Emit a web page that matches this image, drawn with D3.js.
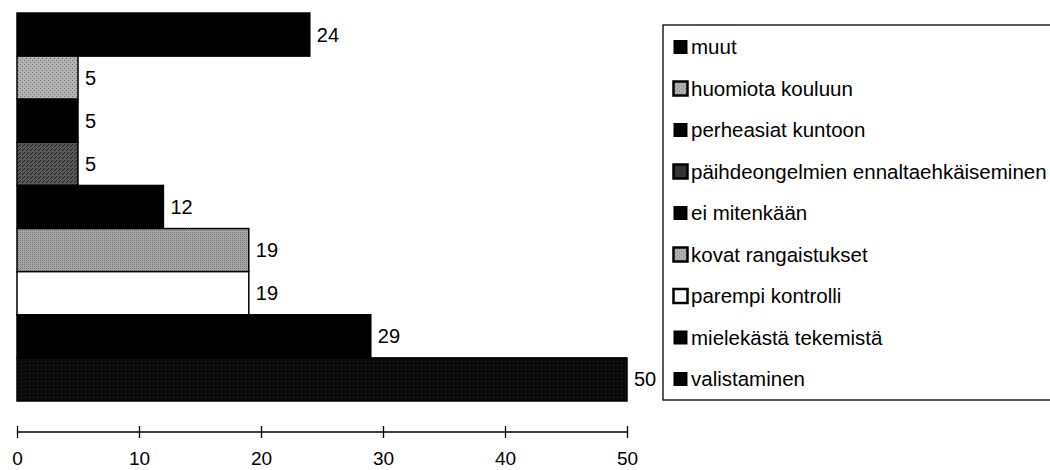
<!DOCTYPE html>
<html>
<head>
<meta charset="utf-8">
<script src="https://cdn.jsdelivr.net/npm/d3@7/dist/d3.min.js"></script>
<style>
  html, body { margin: 0; padding: 0; background: #fff; }
  svg { display: block; font-family: "Liberation Sans", Arial, Helvetica, sans-serif; }
</style>
</head>
<body>
<svg id="chart" width="1050" height="470"></svg>
<script>
const categories = ["muut", "huomiota kouluun", "perheasiat kuntoon", "päihdeongelmien ennaltaehkäiseminen", "ei mitenkään", "kovat rangaistukset", "parempi kontrolli", "mielekästä tekemistä", "valistaminen"];
const values = [24, 5, 5, 5, 12, 19, 19, 29, 50];
const tickValues = [0, 10, 20, 30, 40, 50];

// style per category (pattern ids or colours)
const fills = ["#000", "url(#pLight)", "#000", "url(#pDark)", "#000", "url(#pMid)", "#fff", "#000", "url(#pBlack)"];
const legendFills = ["#000", "url(#pLight)", "#000", "#333", "#000", "url(#pLight)", "#fff", "#000", "#000"];

const svg = d3.select("#chart");
const defs = svg.append("defs");

function dither(id, bg, dots, dotColor) {
  const p = defs.append("pattern").attr("id", id).attr("width", 4).attr("height", 4)
    .attr("patternUnits", "userSpaceOnUse");
  p.append("rect").attr("width", 4).attr("height", 4).attr("fill", bg);
  dots.forEach(([x, y]) => p.append("rect").attr("x", x).attr("y", y).attr("width", 1).attr("height", 1).attr("fill", dotColor));
}
dither("pLight", "#b4b4b4", [[0,0],[2,2]], "#6a6a6a");
dither("pMid", "#a6a6a6", [[0,0],[2,2],[2,0],[0,2]], "#777");
dither("pDark", "#5a5a5a", [[0,0],[2,2],[3,1]], "#1a1a1a");
dither("pBlack", "#0a0a0a", [[1,1]], "#333");

const x = d3.scaleLinear().domain([0, 50]).range([17, 627]);
const y = d3.scaleBand().domain(categories).range([13, 401]).padding(0);

// bars
svg.append("g").selectAll("rect").data(categories).join("rect")
  .attr("x", x(0))
  .attr("y", d => y(d))
  .attr("width", (d, i) => x(values[i]) - x(0))
  .attr("height", y.bandwidth())
  .attr("fill", (d, i) => fills[i])
  .attr("stroke", "#000")
  .attr("stroke-width", 1.5);

// value labels
svg.append("g").selectAll("text").data(categories).join("text")
  .attr("x", (d, i) => x(values[i]) + 7)
  .attr("y", d => y(d) + y.bandwidth() / 2 + 7)
  .attr("font-size", 20)
  .attr("fill", "#000")
  .text((d, i) => values[i]);

// axis
const axis = d3.axisBottom(x).tickValues(tickValues).tickSize(0).tickPadding(0).tickFormat(d3.format("d"));
const ag = svg.append("g").attr("transform", "translate(0,432)").call(axis);
ag.select(".domain").attr("stroke", "#000").attr("stroke-width", 1.3).attr("d", `M${x(0)},0H${x(50)}`);
ag.selectAll(".tick").append("line").attr("y1", -6).attr("y2", 6).attr("stroke", "#000").attr("stroke-width", 1.3);
ag.selectAll(".tick text").attr("y", 33).attr("dy", null).attr("font-size", 19)
  .attr("font-family", "'Liberation Sans', Arial, sans-serif").attr("fill", "#000");

// legend
const legTop = 25, legBottom = 400;
svg.append("rect").attr("x", 663).attr("y", legTop).attr("width", 420).attr("height", legBottom - legTop)
  .attr("fill", "none").attr("stroke", "#000").attr("stroke-width", 1.3);
const ly = d3.scalePoint().domain(categories).range([47, 379]);
const lg = svg.append("g").selectAll("g").data(categories).join("g")
  .attr("transform", d => `translate(673,${ly(d)})`);
lg.append("rect").attr("x", 0.5).attr("y", -7).attr("width", 14).attr("height", 14)
  .attr("fill", (d, i) => legendFills[i])
  .attr("stroke", "#000").attr("stroke-width", (d, i) => legendFills[i] === "#000" ? 0 : 2.5);
lg.append("text").attr("x", 18).attr("y", 7).attr("font-size", 20.5).attr("fill", "#000").text(d => d);
</script>
</body>
</html>
